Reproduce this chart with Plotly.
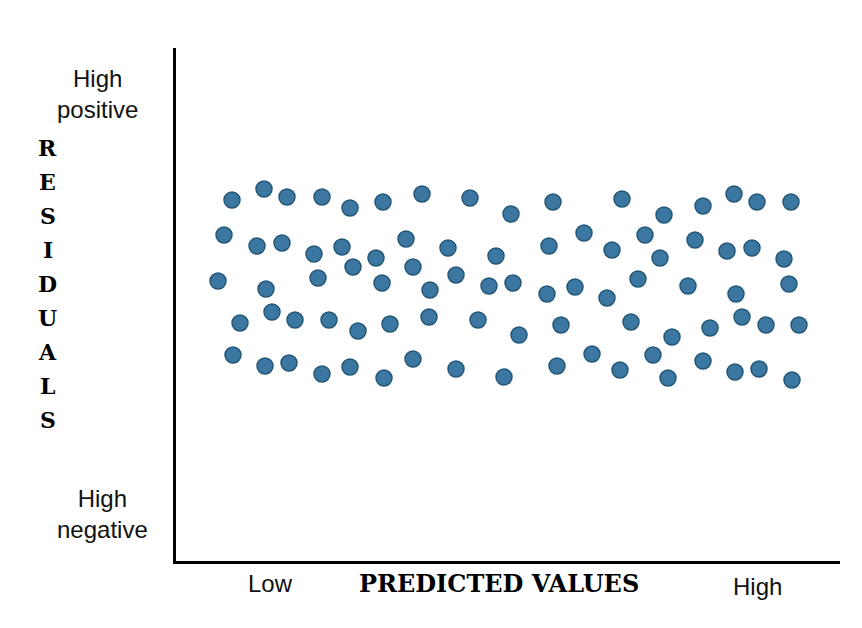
import plotly.graph_objects as go

# predicted value (0 = low, 664 = high) and residual (+257 high positive, -256 high negative)
pred = [56, 88, 111, 146, 174, 207, 246, 294, 335, 377, 446, 488, 527, 558, 581, 615,
        48, 81, 106, 138, 166, 200, 230, 272, 320, 373, 408, 436, 469, 484, 519, 551, 576, 608,
        177, 237, 42, 90, 142, 206, 280, 254, 313, 337, 371, 399, 431, 462, 512, 560, 613,
        64, 96, 119, 153, 182, 214, 253, 302, 343, 385, 455, 496, 534, 566, 590, 623,
        57, 89, 113, 146, 174, 208, 237, 280, 328, 381, 416, 444, 477, 492, 527, 559, 583, 616]
resid = [105, 116, 108, 108, 97, 103, 111, 107, 91, 103, 106, 90, 99, 111, 103, 103,
         70, 59, 62, 51, 58, 47, 66, 57, 49, 59, 72, 55, 70, 47, 65, 54, 57, 46,
         38, 38, 24, 16, 27, 22, 30, 15, 19, 22, 11, 18, 7, 26, 19, 11, 21,
         -18, -7, -15, -15, -26, -19, -12, -15, -30, -20, -17, -32, -23, -12, -20, -20,
         -50, -61, -58, -69, -62, -73, -54, -64, -72, -61, -49, -65, -50, -73, -56, -67, -64, -75]

fig = go.Figure()
fig.add_trace(go.Scatter(
    x=pred, y=resid, mode='markers',
    marker=dict(size=16, color='#3B77A0', line=dict(color='#245676', width=1.5)),
    hoverinfo='skip'))

sans = dict(family='Liberation Sans, Arial', size=24, color='#111')
heavy = dict(family='DejaVu Serif', size=24, color='#000')
heavy_y = dict(family='DejaVu Serif', size=22, color='#000')

notes = [
    dict(x=-0.1175, y=0.910, text='High<br>positive', font=sans),
    dict(x=-0.110, y=0.092, text='High<br>negative', font=sans),
    dict(x=0.143, y=-0.043, text='Low', font=sans),
    dict(x=0.875, y=-0.049, text='High', font=sans),
    dict(x=0.486, y=-0.043, text='<b>PREDICTED VALUES</b>', font=heavy),
]
for i, ch in enumerate('RESIDUALS'):
    notes.append(dict(x=-0.193, y=0.805 - i * 0.0663, text='<b>' + ch + '</b>', font=heavy_y))
for n in notes:
    n.update(xref='paper', yref='paper', showarrow=False, xanchor='center', yanchor='middle')

fig.update_layout(
    width=862, height=628,
    margin=dict(l=168, r=30, t=40, b=75),
    paper_bgcolor='white', plot_bgcolor='white',
    showlegend=False,
    annotations=notes,
    xaxis=dict(range=[0, 664], showline=True, linecolor='black', linewidth=3,
               showgrid=False, zeroline=False, showticklabels=False, ticks=''),
    yaxis=dict(range=[-256, 257], showline=True, linecolor='black', linewidth=3,
               showgrid=False, zeroline=False, showticklabels=False, ticks=''),
)

fig.write_html("out.html")
